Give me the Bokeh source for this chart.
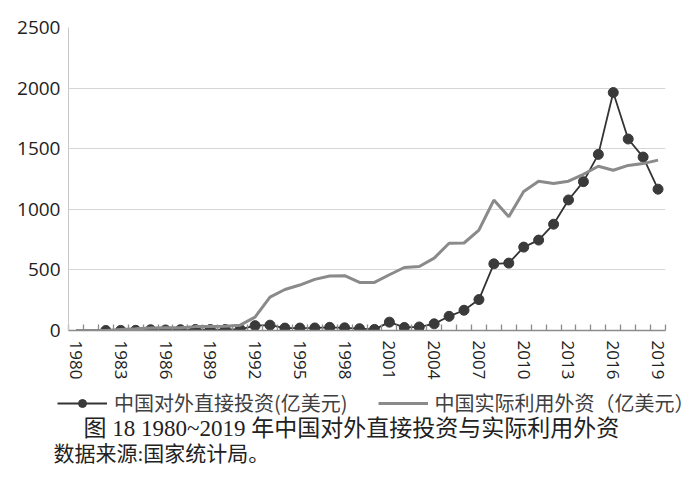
import math
from bokeh.plotting import figure
from bokeh.models import Range1d, FixedTicker, Legend, LegendItem, Label
from bokeh.embed import file_html
from bokeh.resources import INLINE

nan = float("nan")

years = list(range(1980, 2020))
odi = [nan, nan, 0.4, 0.9, 1.3, 6.3, 4.5, 6.5, 8.5, 7.8,
       8.3, 9.1, 40, 44, 20, 20, 21, 26, 22, 15,
       9, 69, 25, 29, 55, 117, 167, 255, 550, 556,
       688, 746, 877, 1077, 1228, 1453, 1963, 1580, 1431, 1166]
fdi = [0, 0, 0, 9, 14, 20, 22, 23, 32, 34,
       35, 44, 110, 275, 338, 375, 422, 450, 452, 397,
       397, 460, 520, 528, 597, 720, 722, 829, 1076, 939,
       1147, 1232, 1213, 1232, 1289, 1355, 1322, 1362, 1377, 1406]
y_ticks = [0, 500, 1000, 1500, 2000, 2500]
x_label_years = [1980, 1983, 1986, 1989, 1992, 1995, 1998, 2001, 2004, 2007, 2010, 2013, 2016, 2019]
legend_labels = ["中国对外直接投资(亿美元)", "中国实际利用外资（亿美元）"]
caption = "图 18  1980~2019 年中国对外直接投资与实际利用外资"
source_note = "数据来源:国家统计局。"

ODI_LINE = dict(line_color="#333333", line_width=1.8)
ODI_PTS = dict(size=10, fill_color="#3a3a3a", line_color="#3a3a3a")
FDI_LINE = dict(line_color="#8a8a8a", line_width=3)

W = 699
p = figure(width=W, height=382, output_backend="svg", toolbar_location=None,
           x_range=Range1d(years[0] - 0.5, years[-1] + 0.5),
           y_range=Range1d(y_ticks[0], y_ticks[-1]),
           min_border_left=68, min_border_right=34, min_border_top=27, min_border_bottom=50)
p.outline_line_color = None
p.background_fill_color = "white"
p.border_fill_color = "white"

p.xaxis.ticker = FixedTicker(ticks=x_label_years,
                             minor_ticks=[y - 0.5 for y in years] + [years[-1] + 0.5])
p.xaxis.major_tick_in = 0
p.xaxis.major_tick_out = 0
p.xaxis.minor_tick_in = 6
p.xaxis.minor_tick_out = 0
p.xaxis.minor_tick_line_color = "#8c8c8c"
p.xaxis.minor_tick_line_width = 1.3
p.xaxis.axis_line_color = "#8c8c8c"
p.xaxis.axis_line_width = 1.5
p.xaxis.major_label_orientation = -math.pi / 2
p.xaxis.major_label_standoff = 10
p.xaxis.major_label_text_font = "Open Sans"
p.xaxis.major_label_text_font_size = "17px"
p.xaxis.major_label_text_color = "#222222"

p.yaxis.ticker = FixedTicker(ticks=y_ticks)
p.yaxis.major_tick_in = 0
p.yaxis.major_tick_out = 0
p.yaxis.minor_tick_line_color = None
p.yaxis.axis_line_color = "#c8c8c8"
p.yaxis.axis_line_width = 1
p.yaxis.major_label_standoff = 8
p.yaxis.major_label_text_font = "Open Sans"
p.yaxis.major_label_text_font_size = "19px"
p.yaxis.major_label_text_color = "#222222"

p.xgrid.grid_line_color = None
p.ygrid.grid_line_color = "#d6d6d6"
p.ygrid.grid_line_width = 1.2

p.line(years, odi, **ODI_LINE)
p.scatter(years, odi, **ODI_PTS)
p.line(years, fdi, **FDI_LINE)

# legend + caption strip below the chart (separate root, frame spans full width)
q = figure(width=W, height=99, output_backend="svg", toolbar_location=None,
           x_axis_location=None, y_axis_location=None,
           x_range=Range1d(0, 1), y_range=Range1d(0, 1),
           min_border=0, min_border_left=0, min_border_right=0,
           min_border_top=0, min_border_bottom=0)
q.outline_line_color = None
q.xgrid.grid_line_color = None
q.ygrid.grid_line_color = None
lo1 = q.line(years, odi, visible=False, **ODI_LINE)
lo2 = q.scatter(years, odi, visible=False, **ODI_PTS)
lf = q.line(years, fdi, visible=False, **FDI_LINE)

legend = Legend(items=[LegendItem(label=legend_labels[0], renderers=[lo1, lo2]),
                       LegendItem(label=legend_labels[1], renderers=[lf])],
                orientation="horizontal", location=(57, 64),
                glyph_width=50, glyph_height=20, label_height=20,
                label_standoff=7, spacing=30, padding=0, margin=0,
                border_line_color=None, background_fill_alpha=0,
                inactive_fill_alpha=0,
                label_text_font="Noto Sans CJK SC", label_text_font_size="20px",
                label_text_color="#404040")
q.add_layout(legend, "center")

q.add_layout(Label(x=83, y=53, x_units="screen", y_units="screen", text=caption,
                   text_font="Liberation Serif, Noto Sans CJK SC", text_font_size="23px",
                   text_baseline="middle", text_color="#222222"))
q.add_layout(Label(x=53, y=28, x_units="screen", y_units="screen", text=source_note,
                   text_font="Liberation Serif, Noto Sans CJK SC", text_font_size="21px",
                   text_baseline="middle", text_color="#222222"))

open("out.html", "w").write(file_html([p, q], INLINE))
